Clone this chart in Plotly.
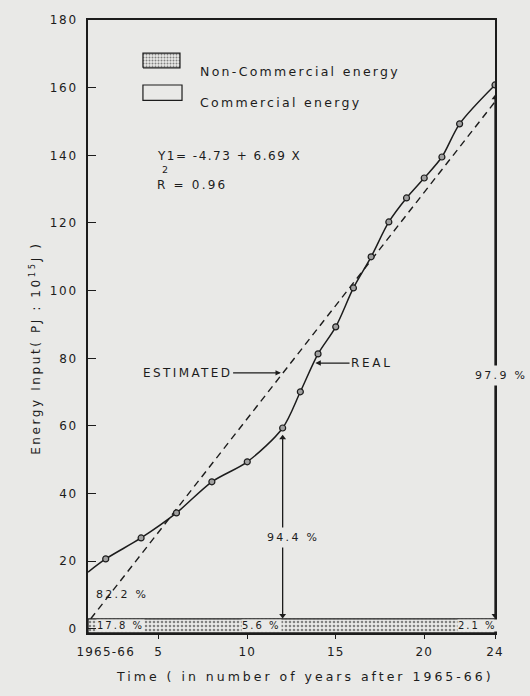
import plotly.graph_objects as go

# ---------------- data ----------------
real_x = [1, 2, 4, 6, 8, 10, 12, 13, 14, 15, 16, 17, 18, 19, 20, 21, 22, 24]
real_y = [16.8, 20.7, 26.9, 34.3, 43.5, 49.4, 59.4, 70.1, 81.3, 89.3, 100.8,
          110.0, 120.3, 127.4, 133.3, 139.5, 149.3, 160.8]
point_x = real_x[1:]
point_y = real_y[1:]

est_intercept = -4.73
est_slope = 6.69
r_squared = 0.96

band_bottom = -1.2
band_top = 3.0
x_min, x_max = 1, 24
y_max = 180

y_tick_vals = [0, 20, 40, 60, 80, 100, 120, 140, 160, 180]
y_tick_text = ["0", "20", "40", "60", "80", "100", "120", "140", "160", "180"]
x_tick_vals = [2, 5, 10, 15, 20, 24]
x_tick_text = ["1965-66", "5", "10", "15", "20", "24"]
x_tick_marks = [5, 10, 15, 20, 24]

noncomm_labels = ["17.8 %", "5.6 %", "2.1 %"]
noncomm_x = [2.86, 10.8, 23.0]
comm_labels = ["82.2 %", "94.4 %", "97.9 %"]
comm_label_x = [2.9, 12.6, 24.0]
comm_label_y = [10.3, 26.9, 74.8]
comm_label_shift = [0, 0, 6]
comm_arrow_x = [12, 24]
comm_arrow_top = [56.5, 157.0]

INK = "#1c1c1c"
BG = "#e9e9e7"
FONT = "DejaVu Sans"


def ls(text, s):
    return f'<span style="letter-spacing:{s}px">{text}</span>'


# ---------------- figure ----------------
fig = go.Figure()

# non-commercial band
fig.add_trace(go.Scatter(
    x=[x_min, x_max, x_max, x_min, x_min],
    y=[band_bottom, band_bottom, band_top, band_top, band_bottom],
    mode="lines", fill="toself",
    fillcolor=BG,
    fillpattern=dict(shape=".", fgcolor=INK, bgcolor=BG, size=4, solidity=0.35),
    line=dict(color=INK, width=1.3),
    hoverinfo="skip", showlegend=False))

# estimated regression line
ex0 = (band_top - est_intercept) / est_slope
ex = [ex0, x_max]
ey = [est_intercept + est_slope * v for v in ex]
fig.add_trace(go.Scatter(
    x=ex, y=ey, mode="lines",
    line=dict(color=INK, width=1.4, dash="7px,5px"),
    hoverinfo="skip", showlegend=False))

# real curve
fig.add_trace(go.Scatter(
    x=real_x, y=real_y, mode="lines",
    line=dict(color=INK, width=1.5, shape="spline", smoothing=0.85),
    hoverinfo="skip", showlegend=False))
fig.add_trace(go.Scatter(
    x=point_x, y=point_y, mode="markers",
    marker=dict(symbol="circle", size=6, color="#a0a0a0",
                line=dict(color=INK, width=1.2)),
    hoverinfo="skip", showlegend=False))

# vertical share arrows (commercial share at selected years)
for xv, top in zip(comm_arrow_x, comm_arrow_top):
    fig.add_trace(go.Scatter(
        x=[xv, xv], y=[top, band_top + 1.0], mode="lines+markers",
        line=dict(color=INK, width=1.3),
        marker=dict(symbol=["triangle-up", "triangle-down"], size=6, color=INK),
        hoverinfo="skip", showlegend=False))

# legend swatch (patterned) on an overlay unit axis
fig.add_trace(go.Scatter(
    x=[0.135, 0.226, 0.226, 0.135, 0.135],
    y=[0.922, 0.922, 0.946, 0.946, 0.922],
    xaxis="x2", yaxis="y2",
    mode="lines", fill="toself", fillcolor=BG,
    fillpattern=dict(shape=".", fgcolor=INK, bgcolor=BG, size=3, solidity=0.35),
    line=dict(color=INK, width=1.2),
    hoverinfo="skip", showlegend=False))

# tick-mark overlay axis (no labels)
fig.add_trace(go.Scatter(x=[x_min], y=[0], xaxis="x3", mode="markers",
                         marker=dict(opacity=0), hoverinfo="skip",
                         showlegend=False))

annotations = []


def ann(**kw):
    base = dict(showarrow=False, font=dict(family=FONT, size=12, color=INK))
    base.update(kw)
    annotations.append(base)


# band labels
for t, xv in zip(noncomm_labels, noncomm_x):
    ann(text=ls(t, 2), x=xv, y=(band_bottom + band_top) / 2, xref="x", yref="y",
        bgcolor=BG, borderpad=0, font=dict(family=FONT, size=10, color=INK))

# share labels
for i, (t, xv, yv, sh) in enumerate(zip(comm_labels, comm_label_x,
                                        comm_label_y, comm_label_shift)):
    ann(text=ls(t, 2.3), x=xv, y=yv, xref="x", yref="y", xshift=sh,
        bgcolor=BG if i > 0 else None, borderpad=3,
        font=dict(family=FONT, size=11, color=INK))

# ESTIMATED / REAL pointers
annotations.append(dict(text=ls("ESTIMATED", 2.4), x=11.9, y=75.7, ax=6.6, ay=75.7,
                        xref="x", yref="y", axref="x", ayref="y", showarrow=True,
                        arrowhead=2, arrowsize=0.9, arrowwidth=1.2, arrowcolor=INK,
                        font=dict(family=FONT, size=12, color=INK)))
annotations.append(dict(text=ls("REAL", 2.7), x=13.85, y=78.6, ax=17.05, ay=78.6,
                        xref="x", yref="y", axref="x", ayref="y", showarrow=True,
                        arrowhead=2, arrowsize=0.9, arrowwidth=1.2, arrowcolor=INK,
                        font=dict(family=FONT, size=12, color=INK)))

# legend text
ann(text=ls("Non-Commercial energy", 2.3), x=0.270, y=0.931, xref="paper",
    yref="paper", xanchor="left", align="left",
    font=dict(family=FONT, size=12.5, color=INK))
ann(text=ls("Commercial energy", 2.3), x=0.270, y=0.881, xref="paper",
    yref="paper", xanchor="left", align="left",
    font=dict(family=FONT, size=12.5, color=INK))

# equation
ann(text=ls(f"Y1= {est_intercept} + {est_slope} X", 1.5), x=0.165, y=0.793,
    xref="paper", yref="paper", xanchor="left", align="left",
    font=dict(family=FONT, size=12, color=INK))
ann(text=ls(f"R = {r_squared}", 2.2), x=0.165, y=0.745, xref="paper",
    yref="paper", xanchor="left", align="left",
    font=dict(family=FONT, size=12, color=INK))
ann(text="2", x=0.177, y=0.768, xref="paper", yref="paper",
    font=dict(family=FONT, size=9.5, color=INK))

# axis titles
ann(text=ls("Energy Input( PJ : 10<sup>15</sup>J )", 2.6), x=-0.155, y=0.465,
    xref="paper", yref="paper", textangle=-90,
    font=dict(family=FONT, size=12, color=INK))
ann(text=ls("Time ( in number of years after 1965-66)", 3.0), x=0.533,
    y=-0.0865, xref="paper", yref="paper",
    font=dict(family=FONT, size=12.5, color=INK))

shapes = [dict(type="rect", xref="paper", yref="paper",
               x0=0.135, x1=0.231, y0=0.869, y1=0.894,
               line=dict(color=INK, width=1.2), fillcolor=BG)]

fig.update_layout(
    width=530, height=696,
    margin=dict(l=88, r=35, t=20, b=63),
    paper_bgcolor=BG, plot_bgcolor=BG,
    font=dict(family=FONT, size=12, color=INK),
    showlegend=False,
    annotations=annotations,
    shapes=shapes,
    xaxis=dict(range=[x_min, x_max], tickvals=x_tick_vals,
               ticktext=[ls(t, 1.2) for t in x_tick_text],
               ticks="", showline=True, linecolor=INK, linewidth=1.6,
               mirror=True, showgrid=False, zeroline=False,
               ticklabelstandoff=7, tickfont=dict(family=FONT, size=12, color=INK)),
    xaxis3=dict(range=[x_min, x_max], overlaying="x", anchor="y", side="bottom",
                tickvals=x_tick_marks, ticks="outside", ticklen=5, tickwidth=1.3,
                tickcolor=INK, showticklabels=False, showgrid=False,
                zeroline=False, showline=False),
    yaxis=dict(range=[band_bottom, y_max], tickvals=y_tick_vals,
               ticktext=[ls(t, 1.7) for t in y_tick_text],
               ticks="inside", ticklen=8, tickwidth=1.4, tickcolor=INK,
               showline=True, linecolor=INK, linewidth=1.6, mirror=True,
               showgrid=False, zeroline=False, ticklabelstandoff=6,
               tickfont=dict(family=FONT, size=12, color=INK)),
    xaxis2=dict(range=[0, 1], overlaying="x", anchor="y2", visible=False),
    yaxis2=dict(range=[0, 1], overlaying="y", anchor="x2", visible=False),
)

fig.write_html("out.html")
